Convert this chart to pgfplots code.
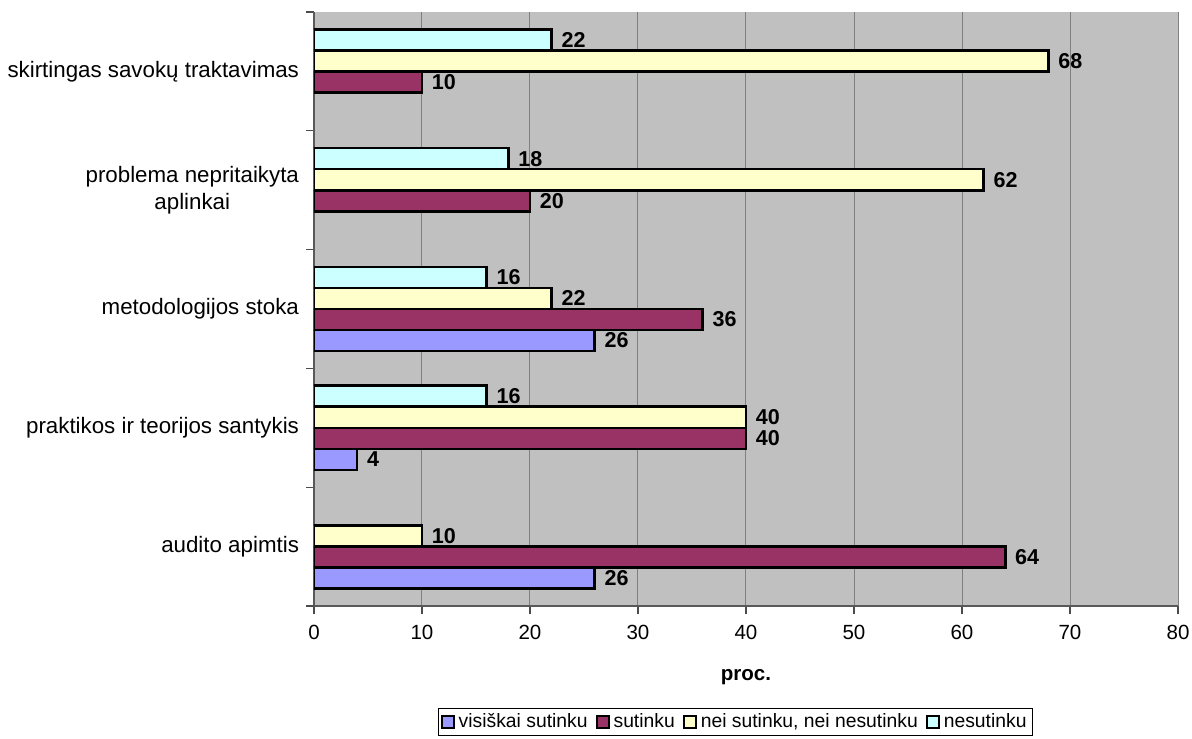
\documentclass[border=0pt]{standalone}
\usepackage{pgfplots}
\pgfplotsset{compat=1.18}
\usepackage{fontspec}
\setmainfont{Liberation Sans}
\definecolor{cblue}{HTML}{9999FF}
\definecolor{cmaroon}{HTML}{993366}
\definecolor{cyellow}{HTML}{FFFFCC}
\definecolor{ccyan}{HTML}{CCFFFF}
\definecolor{cbg}{HTML}{C0C0C0}
\definecolor{cgrid}{HTML}{808080}
\pgfplotsset{sqleg/.style={legend image code/.code={\draw[##1,draw=black,line width=1bp] (0bp,-3bp) rectangle (6bp,3bp);}}}
\begin{document}
\begin{tikzpicture}
\useasboundingbox (-157bp,-66.5bp) rectangle (439bp,303bp);
\begin{axis}[
  scale only axis,
  width=432bp, height=297bp,
  xbar,
  xmin=0, xmax=80, ymin=-0.5, ymax=4.5,
  enlargelimits=false,
  axis background/.style={fill=cbg},
  axis x line*=bottom, axis y line*=left,
  axis line style={black!65, line width=0.9bp},
  xtick={0,10,...,80},
  ytick={-0.5,0.5,...,4.5},
  y tick label as interval,
  yticklabels={audito apimtis, praktikos ir teorijos santykis, metodologijos stoka, {problema nepritaikyta\\aplinkai}, skirtingas savokų traktavimas},
  yticklabel style={align=center, font=\fontsize{11.2}{13.5}\selectfont},
  xticklabel style={font=\fontsize{10.3}{12}\selectfont, yshift=-2bp},
  /pgf/number format/assume math mode=true,
  tick align=outside,
  major tick length=4bp,
  tick style={black!70, line width=0.6bp},
  xmajorgrids,
  major grid style={cgrid, line width=0.5bp},
  xlabel={\bfseries proc.},
  xlabel style={font=\fontsize{10.3}{12}\selectfont, yshift=-8bp},
  bar width=0.177,
  point meta=x,
  nodes near coords,
  nodes near coords align={horizontal},
  every node near coord/.append style={font=\bfseries\fontsize{10.8}{12}\selectfont, anchor=west, xshift=1bp, black},
  legend style={at={(0.488,-0.195)}, anchor=center, legend columns=4, draw=black, line width=0.5bp, fill=white,
    font=\fontsize{9.7}{11}\selectfont, inner xsep=1bp, inner ysep=0.5bp,
    /tikz/every even column/.append style={column sep=2bp}},
  legend cell align=left,
]
\addplot[xbar, bar shift=-0.2655, fill=cblue, draw=black, line width=1.3bp, sqleg] coordinates {(26,0) (4,1) (26,2)};
\addplot[xbar, bar shift=-0.0885, fill=cmaroon, draw=black, line width=1.3bp, sqleg] coordinates {(64,0) (40,1) (36,2) (20,3) (10,4)};
\addplot[xbar, bar shift=0.0885, fill=cyellow, draw=black, line width=1.3bp, sqleg] coordinates {(10,0) (40,1) (22,2) (62,3) (68,4)};
\addplot[xbar, bar shift=0.2655, fill=ccyan, draw=black, line width=1.3bp, sqleg] coordinates {(16,1) (16,2) (18,3) (22,4)};
\legend{visiškai sutinku, sutinku, {nei sutinku, nei nesutinku}, nesutinku}
\end{axis}
\end{tikzpicture}
\end{document}
